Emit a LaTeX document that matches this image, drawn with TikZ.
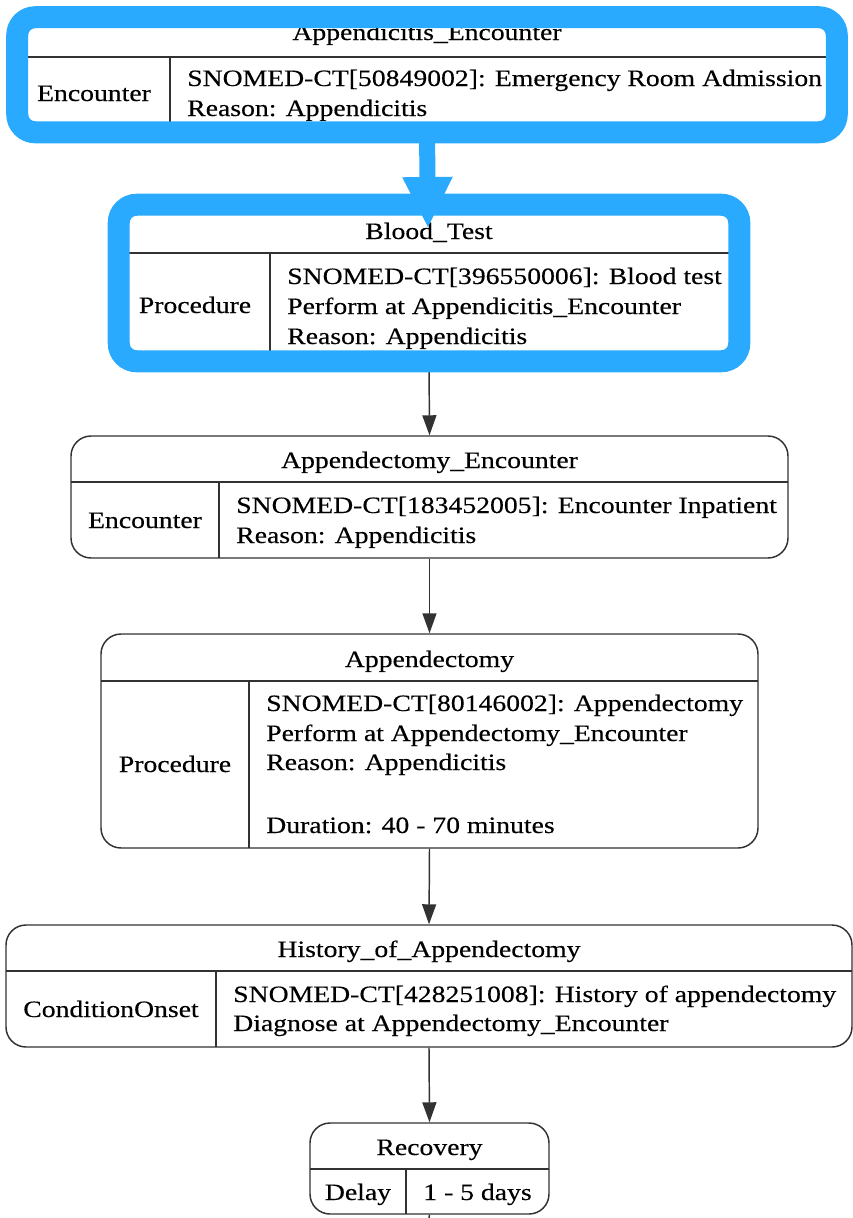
\documentclass[tikz,border=0pt]{standalone}
\usepackage{fontspec}
\setmainfont{Liberation Serif}[FakeStretch=1.18,FakeBold=0.3]
\usetikzlibrary{arrows.meta,fit}
\definecolor{hl}{RGB}{41,170,255}
\definecolor{ln}{RGB}{50,50,50}
\begin{document}
\begin{tikzpicture}[x=0.75pt,y=-0.75pt,
  font=\fontsize{17.6pt}{22pt}\selectfont,
  box/.style={draw=ln, line width=1.1pt, fill=white, rounded corners=15pt, inner sep=0pt, rectangle},
  hlbox/.style={fill=white, inner sep=0pt, rectangle},
  frame/.style={draw=hl, line width=16.5pt, rounded corners=13.5pt},
  cell/.style={draw=ln, line width=1.1pt},
  edge/.style={draw=ln, line width=1.1pt, -{Triangle[length=15pt,width=10.5pt]}},
  plainedge/.style={draw=ln, line width=1.1pt},
  hledge/.style={draw=hl, line width=12pt, -{Triangle[length=37.5pt,width=38pt,line width=0pt]}},
  txt/.style={anchor=base west, inner sep=0pt},
  ctxt/.style={anchor=base, inner sep=0pt}]
\useasboundingbox (0,0) rectangle (853,1218);

% ---- Node 1: Appendicitis_Encounter (highlighted)
\node[hlbox, fit={(17.5,17.5) (836.5,132)}] (n1) {};
\draw[cell] (17.5,57) -- (836.5,57);
\draw[cell] (170,57) -- (170,132);
\node[ctxt] (t1) at (427,40) {Appendicitis\_Encounter};
\node[ctxt] (l1) at (94,101) {Encounter};
\node[txt] (a1) at (187,86) {SNOMED-CT[50849002]: Emergency Room Admission};
\node[txt] (b1) at (187,116) {Reason: Appendicitis};

% ---- Node 2: Blood_Test (highlighted)
\node[hlbox, fit={(119,205) (739,361)}] (n2) {};
\draw[cell] (119,253) -- (739,253);
\draw[cell] (270,253) -- (270,361);
\node[ctxt] (t2) at (429,239) {Blood\_Test};
\node[ctxt] (l2) at (195,313) {Procedure};
\node[txt] (a2) at (287,284) {SNOMED-CT[396550006]: Blood test};
\node[txt] (b2) at (287,314) {Perform at Appendicitis\_Encounter};
\node[txt] (c2) at (287,344) {Reason: Appendicitis};

% ---- Node 3: Appendectomy_Encounter
\node[box, fit={(71,436) (788,558)}] (n3) {};
\draw[cell] (71,482) -- (788,482);
\draw[cell] (219,482) -- (219,558);
\node[ctxt] (t3) at (429.5,468) {Appendectomy\_Encounter};
\node[ctxt] (l3) at (145,528) {Encounter};
\node[txt] (a3) at (236,513) {SNOMED-CT[183452005]: Encounter Inpatient};
\node[txt] (b3) at (236,543) {Reason: Appendicitis};

% ---- Node 4: Appendectomy
\node[box, fit={(101,634) (758,848)}] (n4) {};
\draw[cell] (101,681) -- (758,681);
\draw[cell] (249,681) -- (249,848);
\node[ctxt] (t4) at (429.5,667) {Appendectomy};
\node[ctxt] (l4) at (175,772) {Procedure};
\node[txt] (a4) at (266,711) {SNOMED-CT[80146002]: Appendectomy};
\node[txt] (b4) at (266,741) {Perform at Appendectomy\_Encounter};
\node[txt] (c4) at (266,770) {Reason: Appendicitis};
\node[txt] (d4) at (266,833) {Duration: 40 - 70 minutes};

% ---- Node 5: History_of_Appendectomy
\node[box, fit={(6,925) (852,1047)}] (n5) {};
\draw[cell] (6,971) -- (852,971);
\draw[cell] (216,971) -- (216,1047);
\node[ctxt] (t5) at (429,957) {History\_of\_Appendectomy};
\node[ctxt] (l5) at (111,1017) {ConditionOnset};
\node[txt] (a5) at (233,1002) {SNOMED-CT[428251008]: History of appendectomy};
\node[txt] (b5) at (233,1031) {Diagnose at Appendectomy\_Encounter};

% ---- Node 6: Recovery
\node[box, fit={(310,1123) (549,1214)}] (n6) {};
\draw[cell] (310,1169) -- (549,1169);
\draw[cell] (406,1169) -- (406,1214);
\node[ctxt] (t6) at (429.5,1155) {Recovery};
\node[ctxt] (l6) at (358,1200) {Delay};
\node[ctxt] (v6) at (477.5,1200) {1 - 5 days};

% ---- connectors
\draw[edge] (n2.south) -- (n3.north);
\draw[edge] (n3.south) -- (n4.north);
\draw[edge] (n4.south) -- (n5.north);
\draw[edge] (n5.south) -- (n6.north);
\coordinate (out) at (429,1218);
\draw[plainedge] (n6.south) -- (out);

% ---- highlight frames
\draw[frame] (n1.north west) rectangle (n1.south east);
\draw[frame] (n2.north west) rectangle (n2.south east);
\coordinate (bluetip) at (428,227);
\draw[hledge] (n1.south) -- (bluetip);
\end{tikzpicture}
\end{document}
